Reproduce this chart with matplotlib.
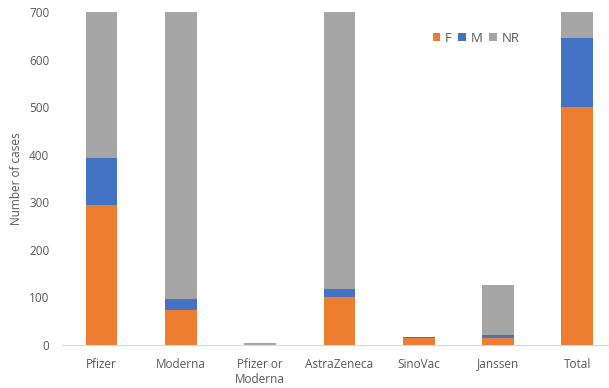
import matplotlib.pyplot as plt
import numpy as np

# datos (NR sobrepasa el eje en varias barras, el eje se corta en 700)
vacunas = ["Pfizer", "Moderna", "Pfizer or\nModerna", "AstraZeneca", "SinoVac", "Janssen", "Total"]
casos_f = [295, 74, 0, 101, 14, 14, 500]
casos_m = [98, 22, 0, 17, 2, 7, 147]
casos_nr = [650, 900, 4, 1000, 0, 106, 2660]

colores = {"F": "#ED7D31", "M": "#4472C4", "NR": "#A5A5A5"}

plt.rcParams['font.family'] = ['Open Sans', 'DejaVu Sans']

fig = plt.figure(figsize=(6.09, 3.88), dpi=100)
ax = fig.add_axes([0.1016, 0.1108, 0.8984, 0.8574])

x = np.arange(len(vacunas))
f = np.array(casos_f)
m = np.array(casos_m)
nr = np.array(casos_nr)

ax.bar(x, f, width=0.4, color=colores["F"], label="F")
ax.bar(x, m, width=0.4, bottom=f, color=colores["M"], label="M")
ax.bar(x, nr, width=0.4, bottom=f + m, color=colores["NR"], label="NR")

ax.set_ylim(0, 700)
ax.set_xlim(-0.5, 6.4)
ax.set_yticks(range(0, 701, 100))
ax.set_xticks(x)
ax.set_xticklabels(vacunas)
ax.tick_params(length=0, labelsize=8.5, colors="#595959")
ax.tick_params(axis="x", pad=9)
ax.tick_params(axis="y", pad=9)

for lado in ["top", "right", "left"]:
    ax.spines[lado].set_visible(False)
ax.spines["bottom"].set_color("#D9D9D9")

ax.set_ylabel("Number of cases", fontsize=8.5, color="#595959", labelpad=4)

ax.legend(loc="center", bbox_to_anchor=(0.782, 0.902), bbox_transform=fig.transFigure,
          ncol=3, frameon=False, fontsize=9.5, handlelength=0.6, handleheight=0.6,
          handletextpad=0.35, columnspacing=0.5, labelcolor="#595959")

fig.savefig("out.png", dpi=100)
